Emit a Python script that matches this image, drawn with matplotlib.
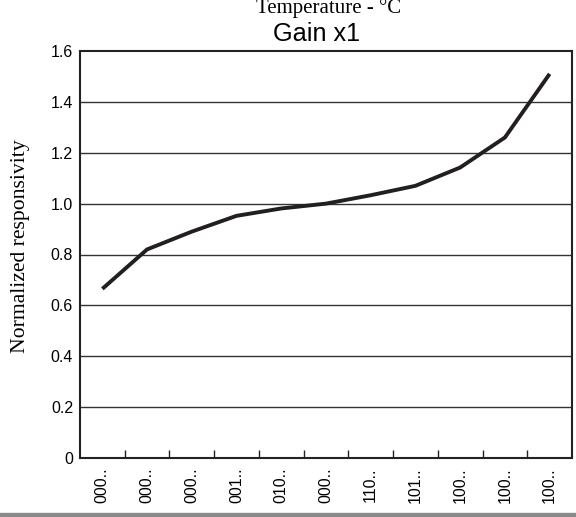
import matplotlib.pyplot as plt
import numpy as np

# category labels (truncated in the source) and normalized responsivity
labels = ["000..", "000..", "000..", "001..", "010..", "000..",
          "110..", "101..", "100..", "100..", "100.."]
responsivity = [0.665, 0.82, 0.89, 0.952, 0.981, 1.0,
                1.033, 1.07, 1.142, 1.26, 1.51]
yticks = [0, 0.2, 0.4, 0.6, 0.8, 1.0, 1.2, 1.4, 1.6]
ytick_labels = ["0", "0.2", "0.4", "0.6", "0.8", "1.0", "1.2", "1.4", "1.6"]

fig = plt.figure(figsize=(5.76, 5.17), dpi=100)
ax = fig.add_axes([80 / 576, 59 / 517, 492 / 576, 407 / 517])

x = np.arange(len(labels))
ax.plot(x, responsivity, color="#231f20", lw=2.8, solid_capstyle="butt", zorder=3)

ax.set_xlim(-0.5, len(labels) - 0.5)
ax.set_ylim(0, 1.6)
ax.set_yticks(yticks)
ax.set_yticklabels(ytick_labels, family="Liberation Sans", fontsize=11.5)
ax.tick_params(axis="y", length=0, pad=5)
for v in yticks[1:-1]:
    ax.axhline(v, color="#333333", lw=1, zorder=1)

ax.set_xticks(x)
ax.set_xticklabels(labels, rotation=90, family="Liberation Sans", fontsize=11.5)
ax.tick_params(axis="x", which="major", length=0, pad=6.5)
ax.set_xticks(x[:-1] + 0.5, minor=True)
ax.tick_params(axis="x", which="minor", direction="in", length=6, width=1, color="#222222")

for s in ax.spines.values():
    s.set_color("#222222")
    s.set_linewidth(1.5)

fig.text(21 / 576, 1 - 246 / 517, "Normalized responsivity", family="Liberation Serif",
         fontsize=15.6, rotation=90, ha="center", va="center")
fig.text(317 / 576, 1 - 41 / 517, "Gain x1", family="Liberation Sans",
         fontsize=18.2, ha="center", va="baseline")
fig.text(328.5 / 576, 1 - 13.3 / 517, "Temperature - °C", family="Liberation Serif",
         fontsize=15, ha="center", va="baseline")

# grey strip along the bottom edge
fig.patches.append(plt.Rectangle((0, 0), 1, 4 / 517, transform=fig.transFigure,
                                 color="#8a8a8a", zorder=0))

fig.savefig("out.png", dpi=100)
